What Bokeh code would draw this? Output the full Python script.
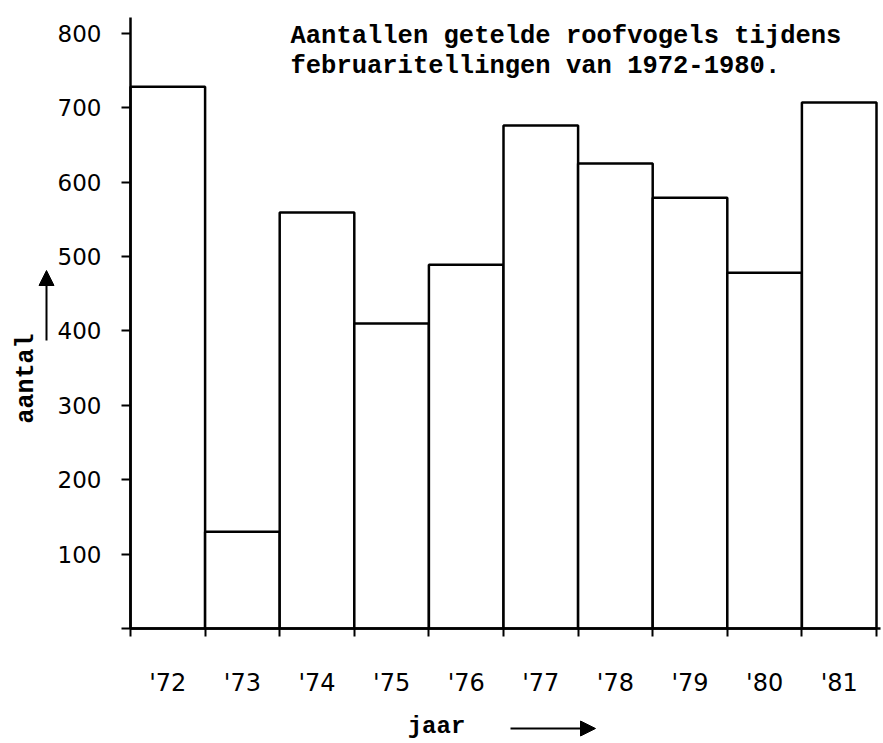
from math import pi
from bokeh.plotting import figure
from bokeh.models import (Range1d, FixedTicker, CustomJSTickFormatter, Label,
                          Arrow, NormalHead)
from bokeh.embed import file_html
from bokeh.resources import INLINE

# ---- data ----
years = ["'72", "'73", "'74", "'75", "'76", "'77", "'78", "'79", "'80", "'81"]
counts = [728, 130, 559, 410, 489, 676, 625, 579, 478, 707]
y_ticks = [0, 100, 200, 300, 400, 500, 600, 700, 800]
title_lines = ["Aantallen getelde roofvogels tijdens",
               "februaritellingen van 1972-1980."]
y_label = "aantal"
x_label = "jaar"

W, H = 882, 742
# pixel anchors of the axes on the canvas
X0_PX, PX_PER_BAR = 130, 74.6      # x = 0 at 130 px, one bar = 74.6 px
Y0_PX, PX_PER_UNIT = 628, 0.744    # y = 0 at 628 px from top

n = len(years)
centers = [i + 0.5 for i in range(n)]
edges = [float(i) for i in range(n + 1)]

p = figure(width=W, height=H,
           x_range=Range1d(-X0_PX / PX_PER_BAR, (W - X0_PX) / PX_PER_BAR),
           y_range=Range1d(-(H - Y0_PX) / PX_PER_UNIT, Y0_PX / PX_PER_UNIT),
           output_backend="svg", toolbar_location=None,
           min_border_left=0, min_border_right=0,
           min_border_top=0, min_border_bottom=0)
p.outline_line_color = None
p.xgrid.visible = False
p.ygrid.visible = False
p.background_fill_color = "white"

p.vbar(x=centers, top=counts, bottom=0, width=1.0,
       fill_color="white", line_color="black", line_width=2.5)

# x axis
xa = p.xaxis[0]
xa.fixed_location = 0
xa.bounds = (0, 10.05)
xa.ticker = FixedTicker(ticks=centers, minor_ticks=edges)
xa.formatter = CustomJSTickFormatter(args=dict(labels=years),
                                     code="return labels[Math.floor(tick)] || ''")
xa.axis_line_width = 2.5
xa.axis_line_color = "black"
xa.major_tick_out = 0
xa.major_tick_in = 0
xa.minor_tick_out = 8
xa.minor_tick_in = 0
xa.minor_tick_line_width = 2
xa.minor_tick_line_color = "black"
xa.major_label_standoff = 32
xa.major_label_text_font = "DejaVu Sans"
xa.major_label_text_font_size = "24px"
xa.major_label_text_color = "black"

# y axis
ya = p.yaxis[0]
ya.fixed_location = 0
ya.bounds = (0, 821)
ya.ticker = FixedTicker(ticks=y_ticks)
ya.formatter = CustomJSTickFormatter(code="return tick == 0 ? '' : tick.toFixed(0)")
ya.axis_line_width = 2.5
ya.axis_line_color = "black"
ya.major_tick_out = 9
ya.major_tick_in = 0
ya.major_tick_line_width = 2
ya.major_tick_line_color = "black"
ya.minor_tick_out = 0
ya.minor_tick_in = 0
ya.major_label_standoff = 20
ya.major_label_text_font = "DejaVu Sans"
ya.major_label_text_font_size = "23px"
ya.major_label_text_color = "black"

mono = "Liberation Mono"

# title (two typed lines inside the plot)
for i, line in enumerate(title_lines):
    p.add_layout(Label(x=290, y=H - 36 - 30 * i, x_units="screen", y_units="screen",
                       text=line, text_font=mono, text_font_style="bold",
                       text_font_size="25.5px", text_color="black",
                       text_baseline="alphabetic", text_align="left"))

# y label + arrow
p.add_layout(Label(x=25.5, y=H - 378, x_units="screen", y_units="screen",
                   text=y_label, angle=pi / 2, text_font=mono,
                   text_font_style="bold", text_font_size="25px",
                   text_color="black", text_align="center",
                   text_baseline="middle"))
p.add_layout(Arrow(x_start=46, y_start=H - 340, x_end=46, y_end=H - 270,
                   start_units="screen", end_units="screen",
                   line_width=2, line_color="black",
                   end=NormalHead(size=15, fill_color="black",
                                  line_color="black")))

# x label + arrow
p.add_layout(Label(x=436, y=H - 726, x_units="screen", y_units="screen",
                   text=x_label, text_font=mono, text_font_style="bold",
                   text_font_size="24px", text_color="black",
                   text_align="center", text_baseline="alphabetic"))
p.add_layout(Arrow(x_start=510, y_start=H - 728, x_end=595, y_end=H - 728,
                   start_units="screen", end_units="screen",
                   line_width=2, line_color="black",
                   end=NormalHead(size=15, fill_color="black",
                                  line_color="black")))

open("out.html", "w").write(file_html(p, INLINE))
